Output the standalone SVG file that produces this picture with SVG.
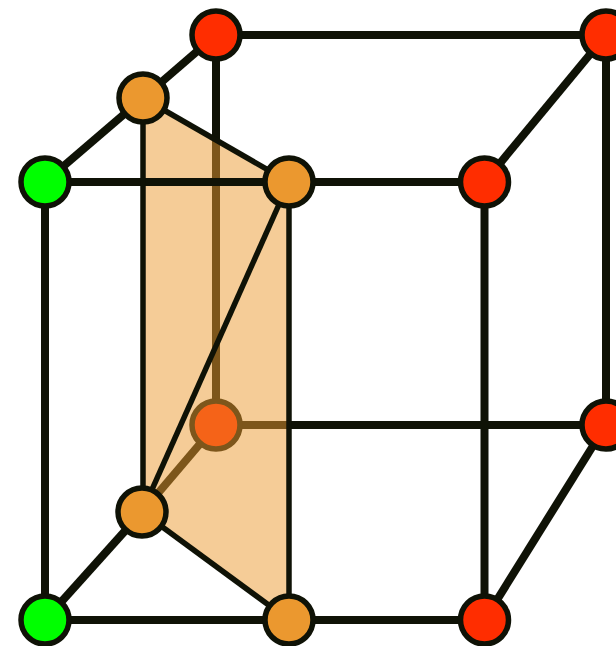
<svg xmlns="http://www.w3.org/2000/svg" width="616" height="646" viewBox="0 0 616 646">
<style>
.e{stroke:#0f1206;stroke-width:8;fill:none}
.t{stroke:#0f1206;stroke-width:5.500;fill:none}
.n{stroke:#0f1206;stroke-width:5.500}
.r{fill:#ff2d00}.o{fill:#eb982f}.g{fill:#00ff00}
</style>
<rect width="616" height="646" fill="#ffffff"/>
<g id="connectors-back">
<line class="e" x1="216" y1="35" x2="216" y2="425"/>
<line class="e" x1="216" y1="425" x2="606" y2="425"/>
<line class="e" x1="216" y1="425" x2="142" y2="512"/>
</g>
<g id="node-back-bottom-left"><circle class="n r" cx="216" cy="425" r="24"/></g>
<polygon id="plane" points="143,98 289,182 289,620 142,512" fill="#eb9a30" fill-opacity="0.5"/>
<g id="connectors">
<line class="e" x1="216" y1="35" x2="606" y2="35"/>
<line class="e" x1="216" y1="35" x2="143" y2="98"/>
<line class="e" x1="143" y1="98" x2="45" y2="182"/>
<line class="e" x1="606" y1="35" x2="484.500" y2="182"/>
<line class="e" x1="606" y1="35" x2="606" y2="425"/>
<line class="e" x1="45" y1="182" x2="484.500" y2="182"/>
<line class="e" x1="45" y1="182" x2="45" y2="620"/>
<line class="e" x1="484.500" y1="182" x2="484.500" y2="620"/>
<line class="e" x1="606" y1="425" x2="484.500" y2="620"/>
<line class="e" x1="45" y1="620" x2="142" y2="512"/>
<line class="e" x1="45" y1="620" x2="484.500" y2="620"/>
<line class="t" x1="143" y1="98" x2="143" y2="512"/>
<line class="t" x1="143" y1="98" x2="289" y2="182"/>
<line class="t" x1="289" y1="182" x2="289" y2="620"/>
<line class="t" x1="289" y1="182" x2="142" y2="512"/>
<line class="t" x1="142" y1="512" x2="289" y2="620"/>
</g>
<g id="node-top-back-left"><circle class="n r" cx="216" cy="35" r="24"/></g>
<g id="node-top-back-right"><circle class="n r" cx="606" cy="35" r="24"/></g>
<g id="node-top-mid"><circle class="n o" cx="143" cy="98" r="24"/></g>
<g id="node-top-front-left"><circle class="n g" cx="45" cy="182" r="24"/></g>
<g id="node-top-front-mid"><circle class="n o" cx="289" cy="182" r="24"/></g>
<g id="node-top-front-right"><circle class="n r" cx="484.500" cy="182" r="24"/></g>
<g id="node-back-bottom-right"><circle class="n r" cx="606" cy="425" r="24"/></g>
<g id="node-bottom-mid"><circle class="n o" cx="142" cy="512" r="24"/></g>
<g id="node-bottom-front-left"><circle class="n g" cx="45" cy="620" r="24"/></g>
<g id="node-bottom-front-mid"><circle class="n o" cx="289" cy="620" r="24"/></g>
<g id="node-bottom-front-right"><circle class="n r" cx="484.500" cy="620" r="24"/></g>
</svg>
